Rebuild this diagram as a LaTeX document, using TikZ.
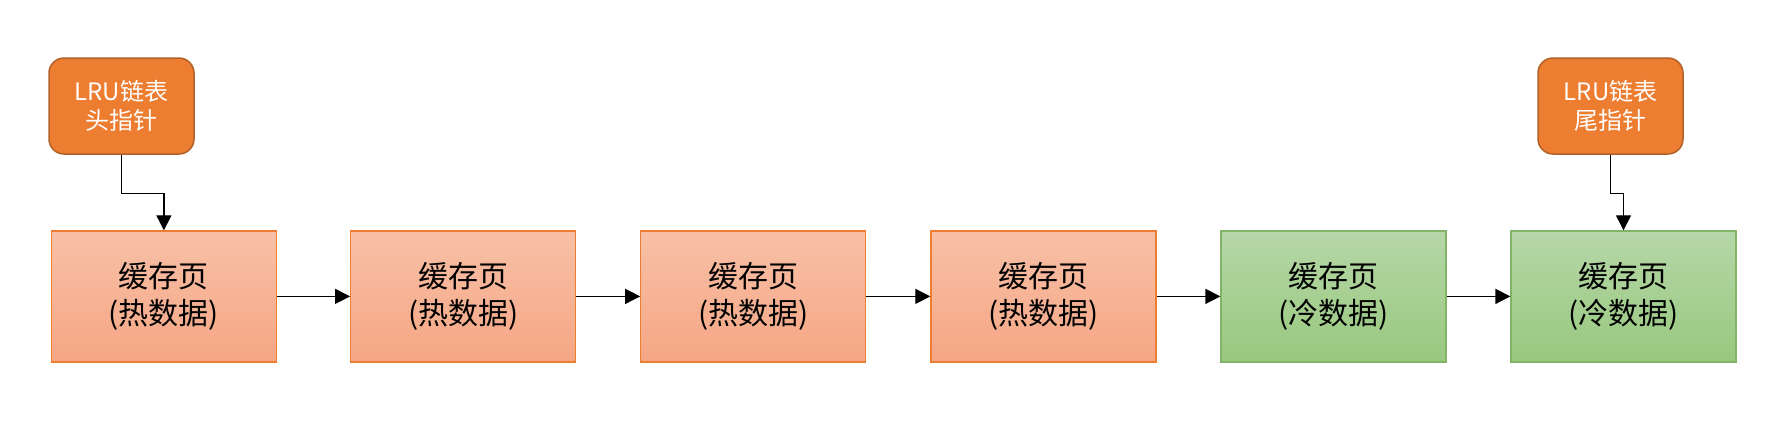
\documentclass[tikz,border=0pt]{standalone}
\usepackage{fontspec}
\setmainfont{Noto Sans CJK SC}
\usetikzlibrary{arrows.meta}
\definecolor{ptrfill}{RGB}{237,125,49}
\definecolor{ptrdraw}{RGB}{178,98,40}
\definecolor{hottop}{RGB}{248,192,167}
\definecolor{hotbot}{RGB}{245,166,132}
\definecolor{hotdraw}{RGB}{237,125,49}
\definecolor{coldtop}{RGB}{182,215,168}
\definecolor{coldbot}{RGB}{152,200,126}
\definecolor{colddraw}{RGB}{130,179,102}
\tikzset{
  ptr/.style={draw=ptrdraw, fill=ptrfill, line width=1.5pt, rounded corners=15pt,
    minimum width=145pt, minimum height=96pt, text=white, align=center,
    font=\fontsize{24}{29}\selectfont, inner sep=0pt},
  page/.style={line width=1.2pt, minimum width=225pt, minimum height=131pt,
    align=center, font=\fontsize{30}{37}\selectfont, inner sep=0pt},
  hot/.style={page, draw=hotdraw, top color=hottop, bottom color=hotbot},
  cold/.style={page, draw=colddraw, top color=coldtop, bottom color=coldbot},
  arr/.style={line width=1.3pt, -{Triangle[length=15pt,width=15pt]}},
}
\begin{document}
\begin{tikzpicture}[x=1pt,y=-1pt]
\useasboundingbox (0,0) rectangle (1791,426);
\node[hot]  (p1) at (163.9,296.4) {缓存页\\(热数据)};
\node[hot]  (p2) at (463.2,296.4) {缓存页\\(热数据)};
\node[hot]  (p3) at (753.3,296.4) {缓存页\\(热数据)};
\node[hot]  (p4) at (1043.4,296.4) {缓存页\\(热数据)};
\node[cold] (p5) at (1333.5,296.4) {缓存页\\(冷数据)};
\node[cold] (p6) at (1623.5,296.4) {缓存页\\(冷数据)};
\node[ptr] (head) at (121.5,106) {LRU链表\\头指针};
\node[ptr] (tail) at (1610.5,106) {LRU链表\\尾指针};
\draw[arr] (p1.east) -- (p2.west);
\draw[arr] (p2.east) -- (p3.west);
\draw[arr] (p3.east) -- (p4.west);
\draw[arr] (p4.east) -- (p5.west);
\draw[arr] (p5.east) -- (p6.west);
\draw[arr] (head.south) -- ++(0,39) -| (p1.north);
\draw[arr] (tail.south) -- ++(0,39) -| (p6.north);
\end{tikzpicture}
\end{document}
